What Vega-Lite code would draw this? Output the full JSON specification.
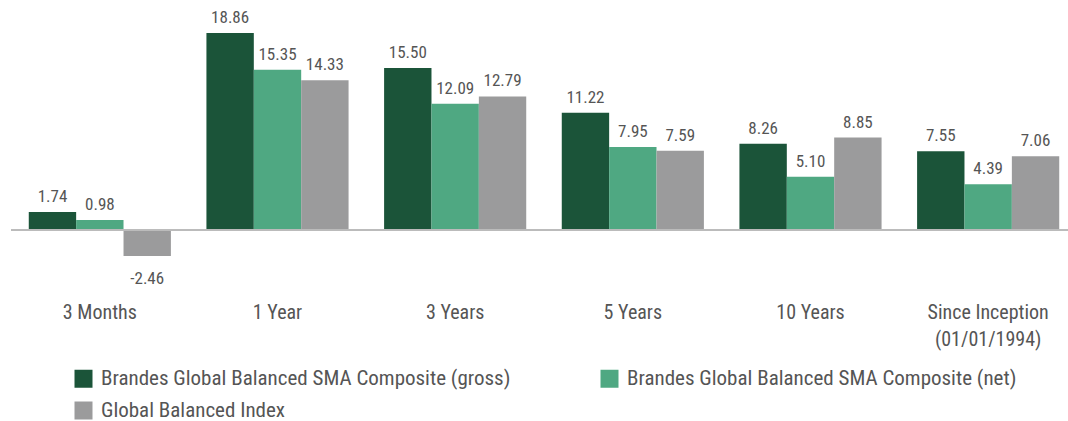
{
  "$schema": "https://vega.github.io/schema/vega-lite/v6.json",
  "width": 1066,
  "height": 251,
  "autosize": {"type": "none"},
  "padding": {"left": 11, "top": 21, "right": 0, "bottom": 149},
  "background": "white",
  "config": {"view": {"stroke": null}, "font": "Roboto Condensed, Roboto"},
  "data": {
    "values": [
      {"period": "3 Months", "series": "Brandes Global Balanced SMA Composite (gross)", "value": 1.74},
      {"period": "3 Months", "series": "Brandes Global Balanced SMA Composite (net)", "value": 0.98},
      {"period": "3 Months", "series": "Global Balanced Index", "value": -2.46},
      {"period": "1 Year", "series": "Brandes Global Balanced SMA Composite (gross)", "value": 18.86},
      {"period": "1 Year", "series": "Brandes Global Balanced SMA Composite (net)", "value": 15.35},
      {"period": "1 Year", "series": "Global Balanced Index", "value": 14.33},
      {"period": "3 Years", "series": "Brandes Global Balanced SMA Composite (gross)", "value": 15.50},
      {"period": "3 Years", "series": "Brandes Global Balanced SMA Composite (net)", "value": 12.09},
      {"period": "3 Years", "series": "Global Balanced Index", "value": 12.79},
      {"period": "5 Years", "series": "Brandes Global Balanced SMA Composite (gross)", "value": 11.22},
      {"period": "5 Years", "series": "Brandes Global Balanced SMA Composite (net)", "value": 7.95},
      {"period": "5 Years", "series": "Global Balanced Index", "value": 7.59},
      {"period": "10 Years", "series": "Brandes Global Balanced SMA Composite (gross)", "value": 8.26},
      {"period": "10 Years", "series": "Brandes Global Balanced SMA Composite (net)", "value": 5.10},
      {"period": "10 Years", "series": "Global Balanced Index", "value": 8.85},
      {"period": "Since Inception (01/01/1994)", "series": "Brandes Global Balanced SMA Composite (gross)", "value": 7.55},
      {"period": "Since Inception (01/01/1994)", "series": "Brandes Global Balanced SMA Composite (net)", "value": 4.39},
      {"period": "Since Inception (01/01/1994)", "series": "Global Balanced Index", "value": 7.06}
    ]
  },
  "transform": [{"calculate": "replace(format(datum.value, '.2f'), '\u2212', '-')", "as": "label"}],
  "encoding": {
    "x": {
      "field": "period", "type": "nominal", "sort": null,
      "scale": {"paddingInner": 0.2, "paddingOuter": 0.1},
      "axis": {
        "title": null, "domain": false, "ticks": false, "labelAngle": 0,
        "labelFont": "Roboto Condensed, Roboto", "labelFontSize": 20, "labelColor": "#555555",
        "labelPadding": 40, "labelLineHeight": 27, "labelBaseline": "middle",
        "labelExpr": "datum.label == 'Since Inception (01/01/1994)' ? ['Since Inception', '(01/01/1994)'] : datum.label"
      }
    },
    "xOffset": {"field": "series", "type": "nominal", "sort": null, "scale": {"paddingInner": 0}},
    "y": {
      "field": "value", "type": "quantitative",
      "scale": {"domain": [-4, 20], "nice": false, "zero": false},
      "axis": null
    }
  },
  "layer": [
    {
      "mark": {"type": "bar"},
      "encoding": {
        "color": {
          "field": "series", "type": "nominal", "sort": null,
          "scale": {
            "domain": ["Brandes Global Balanced SMA Composite (gross)", "Brandes Global Balanced SMA Composite (net)", "Global Balanced Index"],
            "range": ["#1b5439", "#4fa882", "#9b9b9c"]
          },
          "legend": {
            "title": null, "orient": "none", "legendX": 62, "legendY": 347,
            "direction": "horizontal", "columns": 2, "columnPadding": 88, "rowPadding": 10,
            "symbolType": "square", "symbolSize": 324, "symbolStrokeWidth": 0,
            "labelFont": "Roboto Condensed, Roboto", "labelFontSize": 21, "labelColor": "#555555",
            "labelLimit": 600, "labelOffset": 7
          }
        }
      }
    },
    {
      "transform": [{"filter": "datum.value >= 0"}],
      "mark": {"type": "text", "baseline": "bottom", "dy": -6, "font": "Roboto Condensed, Roboto", "fontSize": 17, "color": "#555555"},
      "encoding": {"text": {"field": "label", "type": "nominal"}}
    },
    {
      "transform": [{"filter": "datum.value < 0"}],
      "mark": {"type": "text", "baseline": "top", "dy": 15, "font": "Roboto Condensed, Roboto", "fontSize": 17, "color": "#555555"},
      "encoding": {"text": {"field": "label", "type": "nominal"}}
    },
    {
      "mark": {"type": "rule", "color": "#bbbbbb", "strokeWidth": 1.5},
      "encoding": {"y": {"datum": 0}, "x": null, "xOffset": null}
    }
  ]
}
